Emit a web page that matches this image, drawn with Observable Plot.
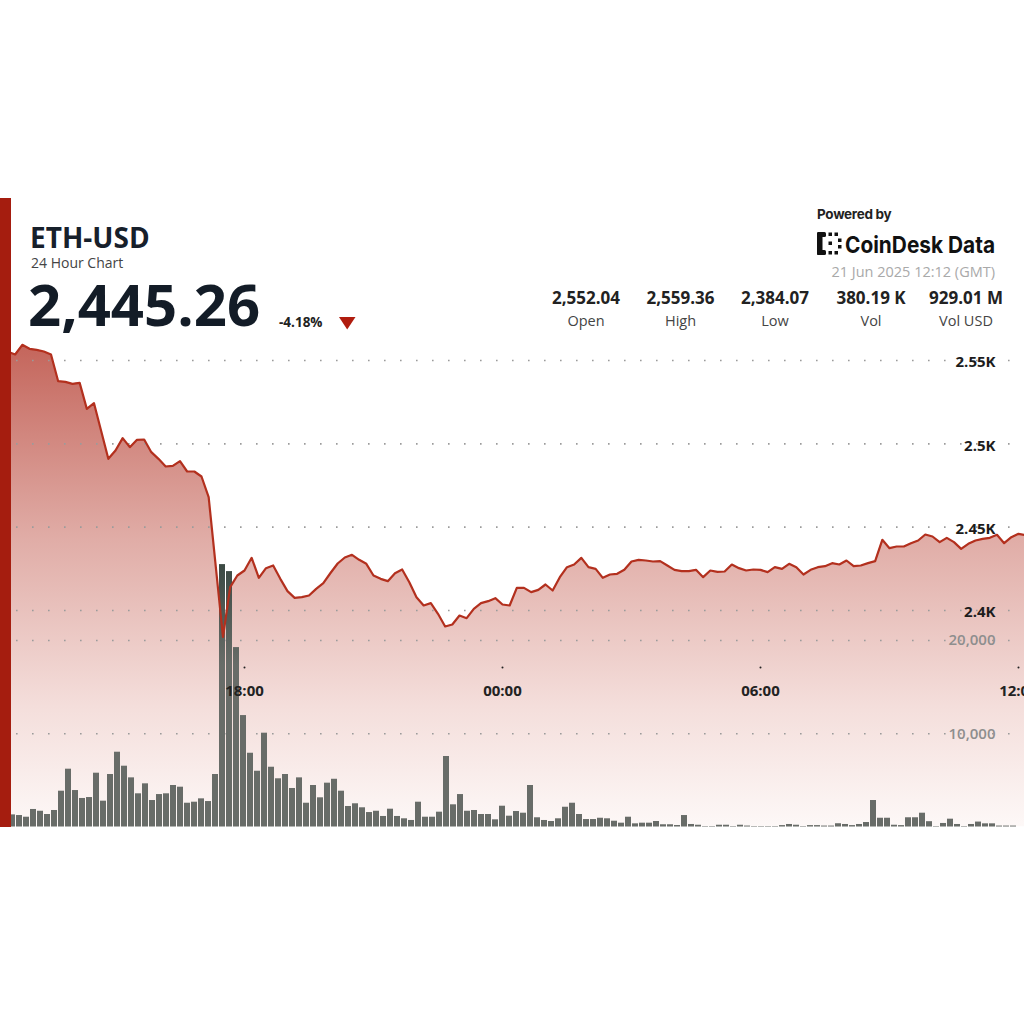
<!DOCTYPE html>
<html>
<head>
<meta charset="utf-8">
<script src="https://cdn.jsdelivr.net/npm/d3@7"></script>
<script src="https://cdn.jsdelivr.net/npm/@observablehq/plot@0.6"></script>
<style>
html,body{margin:0;padding:0;background:#fff;width:1024px;height:1024px;overflow:hidden;font-family:"Open Sans",sans-serif;}
#root{position:relative;width:1024px;height:1024px;overflow:hidden;}
.layer{position:absolute;left:0;top:330px;width:1024px;height:500px;}
.layer svg{display:block;overflow:visible;background:transparent;max-width:none;}
#redbar{position:absolute;left:0;top:198px;width:11px;height:629px;background:#a51d0f;z-index:10;}
#header{position:absolute;left:0;top:0;}
</style>
</head>
<body>
<div id="root">
<svg id="header" width="1024" height="340" font-family="Open Sans, sans-serif">
  <text x="30" y="248" font-size="28" font-weight="700" fill="#17202b">ETH-USD</text>
  <text x="31" y="268" font-size="14" fill="#444">24 Hour Chart</text>
  <text x="28" y="326" font-size="58" font-weight="700" fill="#131c27">2,445.26</text>
  <text x="279" y="327" font-size="13.5" font-weight="700" fill="#222">-4.18%</text>
  <polygon points="339,317 355.5,317 347.2,329.5" fill="#b01c0e"/>
  <text x="817" y="219" font-size="13.5" font-weight="700" fill="#222" font-family="Inter, sans-serif" letter-spacing="-0.3">Powered by</text>
  <g fill="#111">
    <rect x="817" y="232" width="5.5" height="23" rx="1.5"/>
    <rect x="817" y="232" width="9" height="5" rx="1.5"/>
    <rect x="817" y="250" width="9" height="5" rx="1.5"/>
    <rect x="828.5" y="232.5" width="3.5" height="3.5"/>
    <rect x="834.5" y="232.5" width="3.5" height="3.5"/>
    <rect x="828.5" y="251" width="3.5" height="3.5"/>
    <rect x="834.5" y="251" width="3.5" height="3.5"/>
    <rect x="838" y="238.5" width="3.5" height="3.5"/>
    <rect x="838" y="245" width="3.5" height="3.5"/>
    <rect x="828.5" y="241.5" width="3.5" height="3.5"/>
  </g>
  <text x="845" y="252.5" font-size="23" font-weight="700" fill="#111" font-family="Inter, sans-serif" textLength="150" lengthAdjust="spacingAndGlyphs">CoinDesk Data</text>
  <text x="995" y="277" font-size="14.5" fill="#a9a9a9" text-anchor="end">21 Jun 2025 12:12 (GMT)</text>
  <g id="stats" font-size="17" font-weight="700" fill="#222" text-anchor="middle"></g>
  <g id="statLabels" font-size="14.5" fill="#444" text-anchor="middle"></g>
</svg>
<div id="redbar"></div>
<div class="layer" id="layer1"></div>
<div class="layer" id="layer2"></div>
<div class="layer" id="layer3"></div>
</div>
<script>
// ---------- data ----------
const statValues = ["2,552.04", "2,559.36", "2,384.07", "380.19 K", "929.01 M"];
const statLabels = ["Open", "High", "Low", "Vol", "Vol USD"];

const startTime = "2025-06-20T12:20:00Z"; // first 10-minute bin
const stepMinutes = 10;

const prices = [
  2556.0, 2555.2, 2553.6, 2559.4, 2557.0, 2556.4, 2555.4, 2553.6, 2537.6, 2537.2,
  2536.0, 2536.6, 2521.0, 2524.4, 2507.7, 2491.0, 2496.0, 2503.4, 2498.0, 2502.4,
  2502.6, 2495.0, 2491.0, 2486.4, 2486.8, 2489.6, 2483.4, 2483.4, 2480.4, 2468.0,
  2426.0, 2384.1, 2414.0, 2421.0, 2424.0, 2431.6, 2419.6, 2425.4, 2427.0, 2419.0,
  2411.6, 2407.6, 2408.0, 2409.0, 2413.0, 2416.4, 2422.5, 2428.2, 2431.8, 2433.4,
  2430.4, 2428.0, 2421.0, 2419.0, 2417.6, 2422.4, 2424.6, 2417.0, 2408.0, 2403.0,
  2404.4, 2398.0, 2390.4, 2391.6, 2397.0, 2395.4, 2401.0, 2404.4, 2405.6, 2407.4,
  2403.6, 2403.0, 2413.6, 2413.6, 2411.0, 2412.4, 2415.6, 2412.0, 2420.0, 2426.0,
  2427.6, 2431.6, 2426.0, 2425.0, 2419.6, 2421.6, 2422.0, 2424.4, 2429.4, 2430.4,
  2430.0, 2429.4, 2429.6, 2427.0, 2424.4, 2423.6, 2423.6, 2424.4, 2420.0, 2424.0,
  2423.2, 2423.4, 2427.6, 2425.4, 2424.0, 2424.6, 2424.4, 2423.0, 2426.0, 2425.0,
  2428.0, 2426.0, 2421.6, 2424.4, 2426.0, 2426.6, 2428.4, 2427.6, 2430.0, 2426.6,
  2427.0, 2428.4, 2429.6, 2442.4, 2437.4, 2438.4, 2438.4, 2440.4, 2442.0, 2445.6,
  2444.4, 2441.0, 2443.6, 2441.0, 2437.0, 2440.0, 2442.0, 2443.0, 2443.6, 2445.4,
  2440.4, 2444.0, 2446.0, 2445.26
];

const volumes = [
  1300, 1230, 1050, 1880, 1690, 1340, 1770, 3840, 6200, 3910,
  3060, 3160, 5770, 2770, 5630, 8020, 6520, 5270, 3560, 4630,
  2840, 3480, 3560, 4450, 4270, 2550, 2660, 3020, 2730, 5630,
  28140, 27390, 19240, 11950, 7910, 5980, 10060, 6410, 5170, 5630,
  4130, 5270, 2550, 4450, 3130, 4700, 5120, 3840, 2200, 2490,
  2060, 1550, 1690, 1130, 1910, 1130, 880, 700, 2660, 1050,
  1050, 1590, 7560, 2380, 3480, 1690, 1770, 1340, 1340, 770,
  2230, 1160, 1660, 1480, 4450, 990, 700, 590, 880, 2120,
  2550, 1340, 800, 800, 940, 880, 620, 410, 1050, 340,
  410, 410, 590, 240, 240, 160, 1230, 270, 190, 50,
  50, 190, 190, 50, 190, 100, 50, 50, 50, 50,
  150, 270, 190, 50, 150, 150, 100, 100, 350, 270,
  150, 270, 480, 2840, 940, 940, 190, 150, 990, 990,
  1480, 570, 50, 380, 840, 270, 50, 270, 530, 340,
  340, 100, 100, 100
];

const priceTicks = [2400, 2450, 2500, 2550];
const priceTickLabels = ["2.4K", "2.45K", "2.5K", "2.55K"];
const volumeTicks = [10000, 20000];
const timeTicks = ["2025-06-20T18:00:00Z", "2025-06-21T00:00:00Z", "2025-06-21T06:00:00Z", "2025-06-21T12:00:00Z"];
const timeTickLabels = ["18:00", "00:00", "06:00", "12:00"];

// visible window of the chart and price range
const timeDomain = ["2025-06-20T12:19:32Z", "2025-06-21T12:08:24Z"];
const priceDomain = [2270.1, 2568];
const volumeDomain = [0, 20000];

// ---------- header stats ----------
const statX = [586, 680.5, 775, 871, 966];
const ns = "http://www.w3.org/2000/svg";
statValues.forEach((v, i) => {
  const t = document.createElementNS(ns, "text");
  t.setAttribute("x", statX[i]); t.setAttribute("y", 304); t.textContent = v;
  document.getElementById("stats").appendChild(t);
  const l = document.createElementNS(ns, "text");
  l.setAttribute("x", statX[i]); l.setAttribute("y", 326); l.textContent = statLabels[i];
  document.getElementById("statLabels").appendChild(l);
});

// ---------- tables ----------
const t0 = new Date(startTime).getTime();
const times = prices.map((_, i) => new Date(t0 + i * stepMinutes * 60000));
const priceRows = times.map((t, i) => ({t, p: prices[i]}));
const volRows = times.map((t, i) => ({t, v: volumes[i]}));
const tickDates = timeTicks.map(d => new Date(d));

const W = 1024, H = 500;
const common = {width: W, height: H, marginLeft: 0, marginRight: 0, marginBottom: 3.5,
  style: {background: "transparent", overflow: "visible", fontFamily: "Open Sans, sans-serif"}};
const priceScales = {
  x: {type: "utc", domain: timeDomain.map(d => new Date(d)), axis: null},
  y: {domain: priceDomain, axis: null}
};
const dotted = {stroke: "#9b9b9b", strokeWidth: 1.6, strokeDasharray: "1.6,14.4"};

function addGradient(svg, id, attrs, stops) {
  const defs = d3.select(svg).insert("defs", ":first-child");
  const g = defs.append("linearGradient").attr("id", id);
  Object.entries(attrs).forEach(([k, v]) => g.attr(k, v));
  stops.forEach(([o, c, op]) => g.append("stop").attr("offset", o).attr("stop-color", c).attr("stop-opacity", op ?? 1));
}

// Layer 1: price area + price grid
const p1 = Plot.plot({
  ...common, marginTop: 0, ...priceScales,
  marks: [
    Plot.areaY(priceRows, {x: "t", y1: () => priceDomain[0], y2: "p", fill: "url(#priceFill)", clip: true}),
    Plot.ruleY(priceTicks, dotted)
  ]
});
addGradient(p1, "priceFill", {x1: 0, y1: 0, x2: 0, y2: 1}, [
  [0, "#c4655b"], [0.4, "#e0aca6"], [0.75, "#f4dedb"], [1, "#fdf8f7"]
]);
document.getElementById("layer1").appendChild(p1);

// Layer 2: volume bars + volume grid + labels
const p2 = Plot.plot({
  ...common, marginTop: 310,
  x: {type: "band", domain: times, paddingInner: 0.2, paddingOuter: 0.1, axis: null},
  y: {domain: volumeDomain, axis: null},
  marks: [
    Plot.ruleY(volumeTicks, dotted),
    Plot.barY(volRows, {x: "t", y: "v", fill: "url(#barFill)"}),
    Plot.text(volumeTicks, {y: d => d, text: d => d3.format(",")(d), frameAnchor: "right", dx: -29,
      textAnchor: "end", fill: "#8e8e8e", fontSize: 15, fontWeight: 600})
  ]
});
addGradient(p2, "barFill", {gradientUnits: "userSpaceOnUse", x1: 0, y1: 235, x2: 0, y2: 335}, [
  [0, "#3c4a44"], [1, "#686c68"]
]);
document.getElementById("layer2").appendChild(p2);

// Layer 3: price line + price labels + time axis
const p3 = Plot.plot({
  ...common, marginTop: 0, ...priceScales,
  marks: [
    Plot.lineY(priceRows, {x: "t", y: "p", stroke: "#b3301e", strokeWidth: 2.2, clip: true}),
    Plot.text(priceTicks, {y: d => d, text: (d, i) => priceTickLabels[i], frameAnchor: "right", dx: -29, dy: 2,
      textAnchor: "end", fill: "#1c1c1c", fontSize: 15, fontWeight: 700}),
    Plot.dot(tickDates, {x: d => d, frameAnchor: "bottom", dy: -159.5, r: 1, fill: "#222"}),
    Plot.text(tickDates, {x: d => d, text: (d, i) => timeTickLabels[i], frameAnchor: "bottom", dy: -131.5,
      fill: "#222", fontSize: 15, fontWeight: 700})
  ]
});
document.getElementById("layer3").appendChild(p3);
</script>
</body>
</html>
